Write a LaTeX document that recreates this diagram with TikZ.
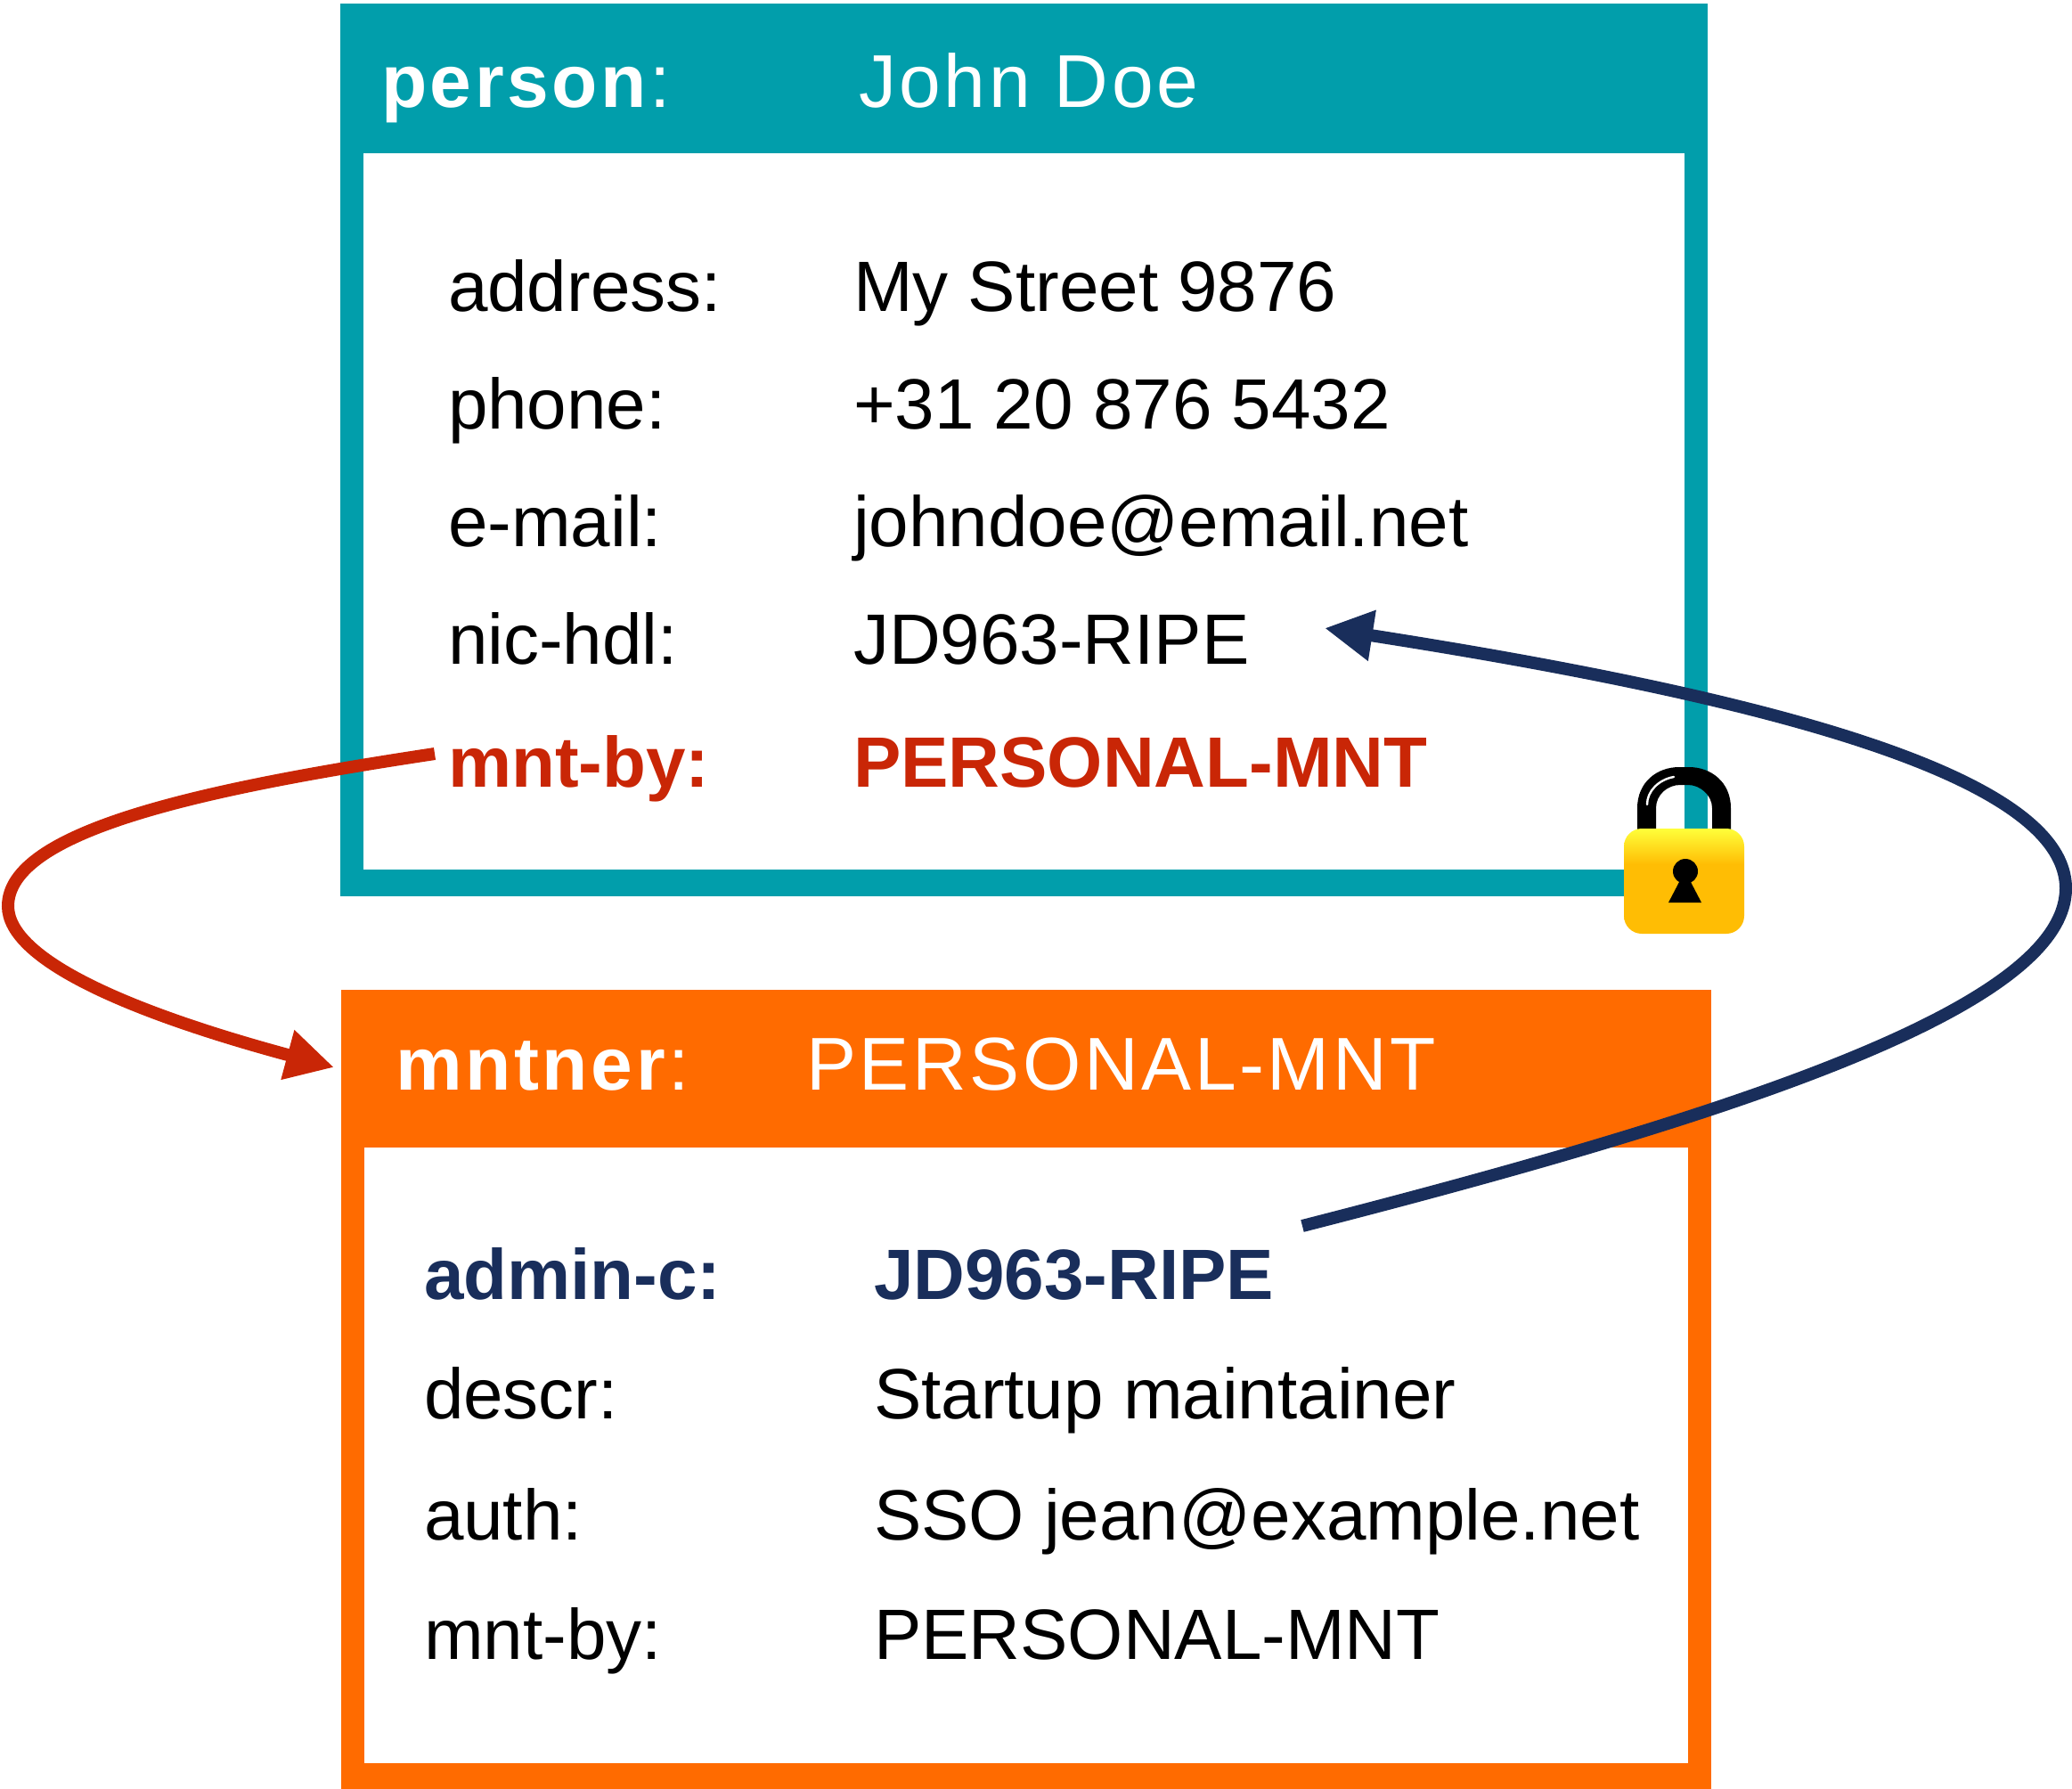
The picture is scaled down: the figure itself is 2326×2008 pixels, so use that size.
\documentclass[tikz,border=0pt]{standalone}
\usepackage{fontspec}
\setmainfont{Liberation Sans}
\usetikzlibrary{arrows.meta}
\definecolor{teal1}{HTML}{019EAB}
\definecolor{orange1}{HTML}{FF6B00}
\definecolor{red1}{HTML}{C92606}
\definecolor{navy1}{HTML}{192E5B}
\definecolor{lockgold}{HTML}{FFBD04}
\definecolor{lockyellow}{HTML}{FFFF3A}
\pgfdeclareverticalshading{lockshade}{100bp}{color(0bp)=(lockgold); color(58bp)=(lockgold); color(75bp)=(lockyellow); color(100bp)=(lockyellow)}
\tikzset{
  bodytext/.style={anchor=base west,inner sep=0pt,outer sep=0pt,font=\fontsize{40}{40}\selectfont,text=black},
  headtext/.style={anchor=base west,inner sep=0pt,outer sep=0pt,font=\fontsize{42}{42}\selectfont\addfontfeature{LetterSpace=4.3},text=white},
  redtext/.style={bodytext,text=red1,font=\fontsize{40}{40}\selectfont\bfseries},
  navytext/.style={bodytext,text=navy1,font=\fontsize{40}{40}\selectfont\bfseries},
  redlink/.style={draw=red1,line width=7pt,-{Triangle[length=27pt,width=27pt]}},
  navylink/.style={draw=navy1,line width=7pt,-{Triangle[length=27pt,width=27pt]}},
}
\begin{document}
\begin{tikzpicture}[x=0.5pt,y=-0.5pt]
\useasboundingbox (0,0) rectangle (2326,2008);
% person box
\fill[teal1] (382,4) rectangle (1917,1006);
\fill[white] (408,172) rectangle (1891,976);
% mntner box
\fill[orange1] (383,1111) rectangle (1921,2008);
\fill[white] (409,1288) rectangle (1895,1979);
% text
\node[headtext] (ph) at (428,120) {\textbf{person}:};
\node[headtext] (pv) at (964,120) {John Doe};
\node[bodytext] (a1) at (503,349) {address:};
\node[bodytext] (a2) at (958,349) {My Street 9876};
\node[bodytext] (b1) at (503,481) {phone:};
\node[bodytext] (b2) at (958,481) {+31 20 876 5432};
\node[bodytext] (c1) at (503,613) {e-mail:};
\node[bodytext] (c2) at (958,613) {johndoe@email.net};
\node[bodytext] (d1) at (503,745) {nic-hdl:};
\node[bodytext] (d2) at (958,745) {JD963-RIPE};
\node[redtext] (e1) at (503,883) {mnt-by:};
\node[redtext] (e2) at (958,883) {PERSONAL-MNT};
\node[headtext] (mh) at (444,1223) {\textbf{mntner}:};
\node[headtext] (mv) at (905,1223) {PERSONAL-MNT};
\node[navytext] (f1) at (476,1458) {admin-c:};
\node[navytext] (f2) at (981,1458) {JD963-RIPE};
\node[bodytext] (g1) at (476,1592) {descr:};
\node[bodytext] (g2) at (981,1592) {Startup maintainer};
\node[bodytext] (h1) at (476,1728) {auth:};
\node[bodytext] (h2) at (981,1728) {SSO jean@example.net};
\node[bodytext] (i1) at (476,1862) {mnt-by:};
\node[bodytext] (i2) at (981,1862) {PERSONAL-MNT};
% lock
\fill[black]
  (1838,940) -- (1838,907) .. controls (1838,878) and (1860,861) .. (1885,861) -- (1896,861)
  .. controls (1921,861) and (1943,878) .. (1943,907) -- (1943,940) -- (1922,940) -- (1922,907)
  .. controls (1922,892) and (1908,881) .. (1895,881) -- (1886,881)
  .. controls (1872,881) and (1859,892) .. (1859,907) -- (1859,940) -- cycle;
\draw[white,line width=1.2pt,line cap=round] (1849,903) .. controls (1849,888) and (1862,875) .. (1879,872);
\shade[shading=lockshade,rounded corners=10pt] (1823,930) rectangle (1958,1048);
\fill[black] (1892,978) circle[radius=14];
\fill[black] (1885,990) -- (1873,1013) -- (1910,1013) -- (1898,990) -- cycle;
% connectors
\coordinate (rs) at (488,846);
\coordinate (rt) at (375,1198);
\coordinate (ns) at (1462,1376);
\coordinate (nt) at (1487,705);
\draw[redlink] (rs) .. controls (230,885) and (9,932) .. (9,1017) .. controls (9,1077) and (145,1136) .. (rt);
\draw[navylink] (ns) .. controls (1962,1248) and (2319,1128) .. (2319,997) .. controls (2319,868) and (1967,780) .. (nt);
\end{tikzpicture}
\end{document}
